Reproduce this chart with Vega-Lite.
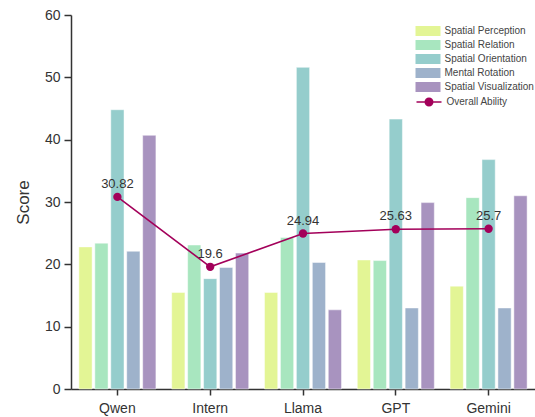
{
  "$schema": "https://vega.github.io/schema/vega-lite/v6.json",
  "width": 464,
  "height": 374,
  "autosize": "none",
  "padding": {"left": 71, "top": 15, "right": 0, "bottom": 28},
  "background": "white",
  "config": {
    "view": {"stroke": null},
    "font": "Liberation Sans",
    "axis": {"labelFont": "Liberation Sans", "titleFont": "Liberation Sans", "labelColor": "#333", "titleColor": "#333", "domainColor": "#333", "tickColor": "#333", "grid": false},
    "legend": {"labelFont": "Liberation Sans", "labelColor": "#444"}
  },
  "datasets": {
    "bars": [
      {"model": "Qwen", "cat": "Spatial Perception", "value": 22.8},
      {"model": "Qwen", "cat": "Spatial Relation", "value": 23.4},
      {"model": "Qwen", "cat": "Spatial Orientation", "value": 44.8},
      {"model": "Qwen", "cat": "Mental Rotation", "value": 22.1},
      {"model": "Qwen", "cat": "Spatial Visualization", "value": 40.7},
      {"model": "Intern", "cat": "Spatial Perception", "value": 15.5},
      {"model": "Intern", "cat": "Spatial Relation", "value": 23.1},
      {"model": "Intern", "cat": "Spatial Orientation", "value": 17.7},
      {"model": "Intern", "cat": "Mental Rotation", "value": 19.5},
      {"model": "Intern", "cat": "Spatial Visualization", "value": 21.8},
      {"model": "Llama", "cat": "Spatial Perception", "value": 15.5},
      {"model": "Llama", "cat": "Spatial Relation", "value": 24.3},
      {"model": "Llama", "cat": "Spatial Orientation", "value": 51.6},
      {"model": "Llama", "cat": "Mental Rotation", "value": 20.3},
      {"model": "Llama", "cat": "Spatial Visualization", "value": 12.7},
      {"model": "GPT", "cat": "Spatial Perception", "value": 20.7},
      {"model": "GPT", "cat": "Spatial Relation", "value": 20.6},
      {"model": "GPT", "cat": "Spatial Orientation", "value": 43.3},
      {"model": "GPT", "cat": "Mental Rotation", "value": 13.0},
      {"model": "GPT", "cat": "Spatial Visualization", "value": 29.9},
      {"model": "Gemini", "cat": "Spatial Perception", "value": 16.5},
      {"model": "Gemini", "cat": "Spatial Relation", "value": 30.7},
      {"model": "Gemini", "cat": "Spatial Orientation", "value": 36.8},
      {"model": "Gemini", "cat": "Mental Rotation", "value": 13.0},
      {"model": "Gemini", "cat": "Spatial Visualization", "value": 31.0}
    ],
    "overall": [
      {"model": "Qwen", "series": "Overall Ability", "value": 30.82},
      {"model": "Intern", "series": "Overall Ability", "value": 19.6},
      {"model": "Llama", "series": "Overall Ability", "value": 24.94},
      {"model": "GPT", "series": "Overall Ability", "value": 25.63},
      {"model": "Gemini", "series": "Overall Ability", "value": 25.7}
    ]
  },
  "layer": [
    {
      "data": {"name": "bars"},
      "mark": {"type": "bar", "stroke": "#ffffff", "strokeOpacity": 0.6, "strokeWidth": 0.8},
      "encoding": {
        "x": {
          "field": "model", "type": "nominal",
          "sort": ["Qwen", "Intern", "Llama", "GPT", "Gemini"],
          "scale": {"paddingInner": 0.17, "paddingOuter": 0.085},
          "axis": {"title": null, "labelAngle": 0, "labelFontSize": 14, "labelPadding": 6, "tickSize": 6, "tickWidth": 1.5, "domainWidth": 1.5, "labelColor": "#333"}
        },
        "xOffset": {
          "field": "cat", "type": "nominal",
          "sort": ["Spatial Perception", "Spatial Relation", "Spatial Orientation", "Mental Rotation", "Spatial Visualization"],
          "scale": {"paddingInner": 0.17}
        },
        "y": {
          "field": "value", "type": "quantitative",
          "scale": {"domain": [0, 60], "nice": false},
          "axis": {
            "title": "Score", "titleFontSize": 17, "titleFontWeight": "normal", "titlePadding": 12,
            "values": [0, 5, 10, 15, 20, 25, 30, 35, 40, 45, 50, 55, 60],
            "labelExpr": "datum.value % 10 === 0 ? datum.label : ''",
            "labelFontSize": 14, "labelPadding": 4,
            "tickSize": {"condition": {"test": "datum.value % 10 === 0", "value": 7}, "value": 3.5},
            "tickWidth": 1.5, "domainWidth": 1.5
          }
        },
        "fill": {
          "field": "cat", "type": "nominal",
          "scale": {
            "domain": ["Spatial Perception", "Spatial Relation", "Spatial Orientation", "Mental Rotation", "Spatial Visualization"],
            "range": ["#e3f595", "#a8e6bf", "#95cdcc", "#9eb2cb", "#a893bf"]
          },
          "legend": {
            "title": null, "orient": "none", "legendX": 352, "legendY": 11,
            "symbolType": "M-2.5,-1H2.5V1H-2.5Z", "symbolSize": 100, "symbolStrokeWidth": 0,
            "labelFontSize": 10, "rowPadding": 4, "labelOffset": 11.5, "symbolOpacity": 1
          }
        }
      }
    },
    {
      "data": {"name": "overall"},
      "mark": {"type": "line", "strokeWidth": 1.6},
      "encoding": {
        "x": {"field": "model", "type": "nominal", "sort": ["Qwen", "Intern", "Llama", "GPT", "Gemini"]},
        "y": {"field": "value", "type": "quantitative"},
        "stroke": {
          "field": "series", "type": "nominal",
          "scale": {"domain": ["Overall Ability"], "range": ["#a3005a"]},
          "legend": {
            "title": null, "orient": "none", "legendX": 352, "legendY": 81,
            "symbolType": "M-2.5,0H2.5M-0.75,0A0.75,0.75 0 1,1 0.75,0A0.75,0.75 0 1,1 -0.75,0Z",
            "symbolSize": 100, "symbolStrokeWidth": 1.5, "symbolFillColor": "#a3005a",
            "labelFontSize": 10, "labelOffset": 11.5
          }
        }
      }
    },
    {
      "data": {"name": "overall"},
      "mark": {"type": "point", "filled": true, "size": 70, "opacity": 1, "color": "#a3005a"},
      "encoding": {
        "x": {"field": "model", "type": "nominal", "sort": ["Qwen", "Intern", "Llama", "GPT", "Gemini"]},
        "y": {"field": "value", "type": "quantitative"}
      }
    },
    {
      "data": {"name": "overall"},
      "mark": {"type": "text", "dy": -13, "fontSize": 13, "color": "#333"},
      "encoding": {
        "x": {"field": "model", "type": "nominal", "sort": ["Qwen", "Intern", "Llama", "GPT", "Gemini"]},
        "y": {"field": "value", "type": "quantitative"},
        "text": {"field": "value", "type": "quantitative"}
      }
    }
  ]
}
